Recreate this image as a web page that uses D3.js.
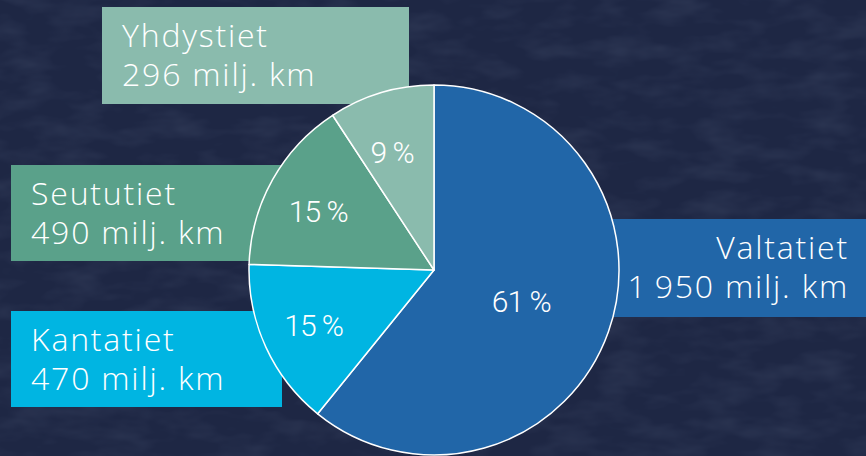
<!DOCTYPE html>
<html>
<head>
<meta charset="utf-8">
<script src="https://cdn.jsdelivr.net/npm/d3@7"></script>
<style>
  html, body { margin: 0; padding: 0; background: #1f2845; }
  svg { display: block; }
</style>
</head>
<body>
<svg id="chart" width="866" height="456"></svg>
<script>
// Road traffic performance by road class (million vehicle-km)
const categories = ["Valtatiet", "Kantatiet", "Seututiet", "Yhdystiet"];
const values = [1950, 470, 490, 296];
const unit = "milj. km";
const colors = ["#2166a8", "#00b5e2", "#5aa18a", "#8abbad"];

const W = 866, H = 456;
const cx = 434, cy = 270, R = 185;

// callout boxes: left/right edges, top/bottom, text anchoring
const boxes = {
  "Yhdystiet": { x0: 102, x1: 409, y0: 7,   y1: 104, tx: 122, anchor: "start" },
  "Seututiet": { x0: 11,  x1: 330, y0: 165, y1: 261, tx: 31,  anchor: "start" },
  "Kantatiet": { x0: 11,  x1: 282, y0: 311, y1: 407, tx: 31,  anchor: "start" },
  "Valtatiet": { x0: 540, x1: 866, y0: 219, y1: 317, tx: 849, anchor: "end" }
};

const fi = d3.formatLocale({ decimal: ",", thousands: "\u2009", grouping: [3], currency: ["", " €"] });
const fmt = fi.format(",d");

const svg = d3.select("#chart");
const defs = svg.append("defs");

// faint mottled background texture
const filt = defs.append("filter").attr("id", "mottle")
  .attr("x", 0).attr("y", 0).attr("width", "100%").attr("height", "100%");
filt.append("feTurbulence").attr("type", "fractalNoise")
  .attr("baseFrequency", "0.02 0.05").attr("numOctaves", 3).attr("seed", 7);
filt.append("feColorMatrix").attr("type", "matrix")
  .attr("values", "0 0 0 0 0.17  0 0 0 0 0.22  0 0 0 0 0.34  0 0 0 1 -0.4");

svg.append("rect").attr("width", W).attr("height", H).attr("fill", "#1e2744");
svg.append("rect").attr("width", W).attr("height", H).attr("filter", "url(#mottle)").attr("opacity", 0.3);

const data = categories.map((c, i) => ({ name: c, value: values[i], color: colors[i] }));
const total = d3.sum(values);

// callout boxes (behind the pie)
const boxG = svg.append("g");
data.forEach(d => {
  const b = boxes[d.name];
  boxG.append("rect")
    .attr("x", b.x0).attr("y", b.y0)
    .attr("width", b.x1 - b.x0).attr("height", b.y1 - b.y0)
    .attr("fill", d.color);
  const t = boxG.append("text")
    .attr("text-anchor", b.anchor)
    .attr("fill", "#ffffff")
    .style("font-family", "'Open Sans', sans-serif")
    .style("font-weight", 300)
    .style("font-size", "32px")
    .style("letter-spacing", "1.8px");
  t.append("tspan").attr("x", b.tx).attr("y", b.y0 + 40).text(d.name);
  t.append("tspan").attr("x", b.tx).attr("y", b.y0 + 79).text(fmt(d.value) + " " + unit);
});

// pie
const pie = d3.pie().value(d => d.value).sort(null);
const arc = d3.arc().innerRadius(0).outerRadius(R);
const arcs = pie(data);

const g = svg.append("g").attr("transform", `translate(${cx},${cy})`);
g.selectAll("path.slice").data(arcs).join("path")
  .attr("class", "slice")
  .attr("d", arc)
  .attr("fill", d => d.data.color)
  .attr("stroke", "#ffffff")
  .attr("stroke-width", 1.5)
  .attr("stroke-linejoin", "round");

// percentage labels: large slice at its centroid, narrow ones further out
const labelArc = d3.arc().innerRadius(R * 0.68).outerRadius(R * 0.68);
g.selectAll("text.pct").data(arcs).join("text")
  .attr("class", "pct")
  .attr("transform", d => {
    const big = (d.endAngle - d.startAngle) > Math.PI;
    const [x, y] = big ? arc.centroid(d) : labelArc.centroid(d);
    return `translate(${big ? x : x - 6},${big ? y : y + 3})`;
  })
  .attr("text-anchor", "middle")
  .attr("dy", "0.36em")
  .attr("fill", "#ffffff")
  .style("font-family", "Roboto, sans-serif")
  .style("font-weight", 300)
  .style("font-size", "30px")
  .style("letter-spacing", "-1px")
  .text(d => Math.round(d.data.value / total * 100) + " %");
</script>
</body>
</html>
